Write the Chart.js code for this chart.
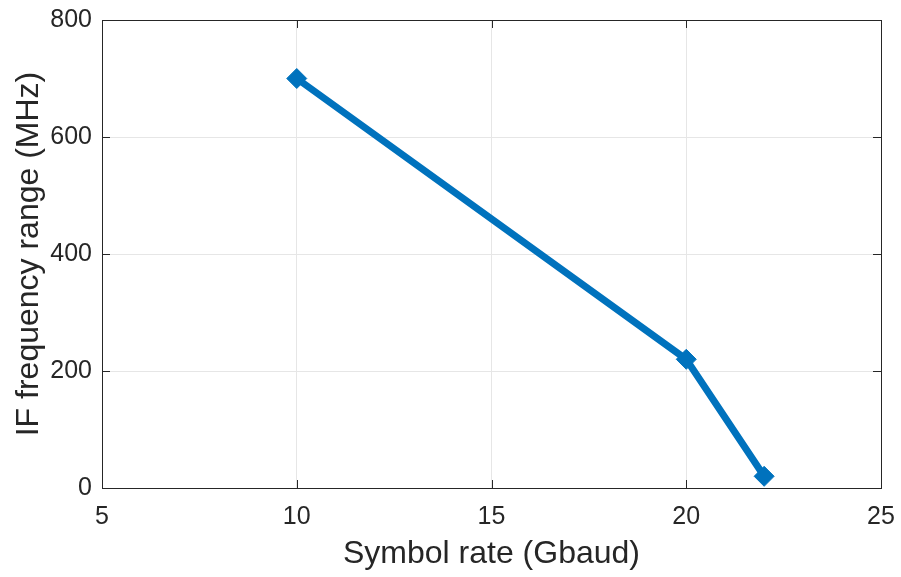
<!DOCTYPE html>
<html>
<head>
<meta charset="utf-8">
<script src="https://cdn.jsdelivr.net/npm/chart.js@4"></script>
<style>
  html, body { margin: 0; padding: 0; background: #fff; }
  #wrap { width: 901px; height: 577px; }
</style>
</head>
<body>
<div id="wrap"><canvas id="myChart"></canvas></div>
<script>
// data
const symbolRates = [10, 20, 22];          // Gbaud
const ifRanges = [700, 220, 20];           // MHz
const xTicks = [5, 10, 15, 20, 25];
const yTicks = [0, 200, 400, 600, 800];

const axisColor = '#262626';
const lineColor = '#0072BD';
const fontFamily = 'Liberation Sans, Arial, sans-serif';

// MATLAB-style box with inward tick marks on all four sides
const boxPlugin = {
    id: 'box',
    afterDatasetsDraw(chart) {
        const { ctx, chartArea: a, scales } = chart;
        ctx.save();
        ctx.strokeStyle = axisColor;
        ctx.lineWidth = 1;
        ctx.strokeRect(a.left + 0.5, a.top + 0.5, a.right - a.left, a.bottom - a.top);
        ctx.beginPath();
        xTicks.forEach(v => {
            const x = Math.round(scales.x.getPixelForValue(v)) + 0.5;
            ctx.moveTo(x, a.bottom); ctx.lineTo(x, a.bottom - 8);
            ctx.moveTo(x, a.top); ctx.lineTo(x, a.top + 8);
        });
        yTicks.forEach(v => {
            const y = Math.round(scales.y.getPixelForValue(v)) + 0.5;
            ctx.moveTo(a.left, y); ctx.lineTo(a.left + 8, y);
            ctx.moveTo(a.right, y); ctx.lineTo(a.right - 8, y);
        });
        ctx.stroke();
        ctx.restore();
    }
};

const myChart = document.getElementById('myChart');

new Chart(myChart, {
    type: 'scatter',
    data: {
        datasets: [{
            data: symbolRates.map((x, i) => ({ x: x, y: ifRanges[i] })),
            showLine: true,
            borderColor: lineColor,
            backgroundColor: lineColor,
            borderWidth: 7,
            pointStyle: 'rectRot',
            pointRadius: 10,
            pointHoverRadius: 10,
            pointBorderWidth: 1,
            clip: false
        }]
    },
    plugins: [boxPlugin],
    options: {
        responsive: true,
        maintainAspectRatio: false,
        animation: false,
        layout: { padding: { top: 20, right: 20, left: 0, bottom: 0 } },
        plugins: {
            legend: { display: false },
            tooltip: { enabled: false }
        },
        scales: {
            x: {
                type: 'linear',
                min: 5,
                max: 25,
                afterFit: s => { s.height = 89; s.paddingLeft = 0; s.paddingRight = 0; },
                afterBuildTicks: s => { s.ticks = xTicks.map(v => ({ value: v })); },
                grid: { color: '#e6e6e6', drawTicks: false },
                border: { display: false },
                ticks: {
                    color: axisColor,
                    padding: 14,
                    font: { family: fontFamily, size: 25 }
                },
                title: {
                    display: true,
                    text: 'Symbol rate (Gbaud)',
                    color: axisColor,
                    padding: { top: 0, bottom: 4 },
                    font: { family: fontFamily, size: 32 }
                }
            },
            y: {
                min: 0,
                max: 800,
                afterFit: s => { s.width = 102; s.paddingTop = 0; s.paddingBottom = 0; },
                afterBuildTicks: s => { s.ticks = yTicks.map(v => ({ value: v })); },
                grid: { color: '#e6e6e6', drawTicks: false },
                border: { display: false },
                ticks: {
                    color: axisColor,
                    padding: 10,
                    font: { family: fontFamily, size: 25 }
                },
                title: {
                    display: true,
                    text: 'IF frequency range (MHz)',
                    color: axisColor,
                    padding: { top: 10, bottom: 0 },
                    font: { family: fontFamily, size: 32 }
                }
            }
        }
    }
});
</script>
</body>
</html>
